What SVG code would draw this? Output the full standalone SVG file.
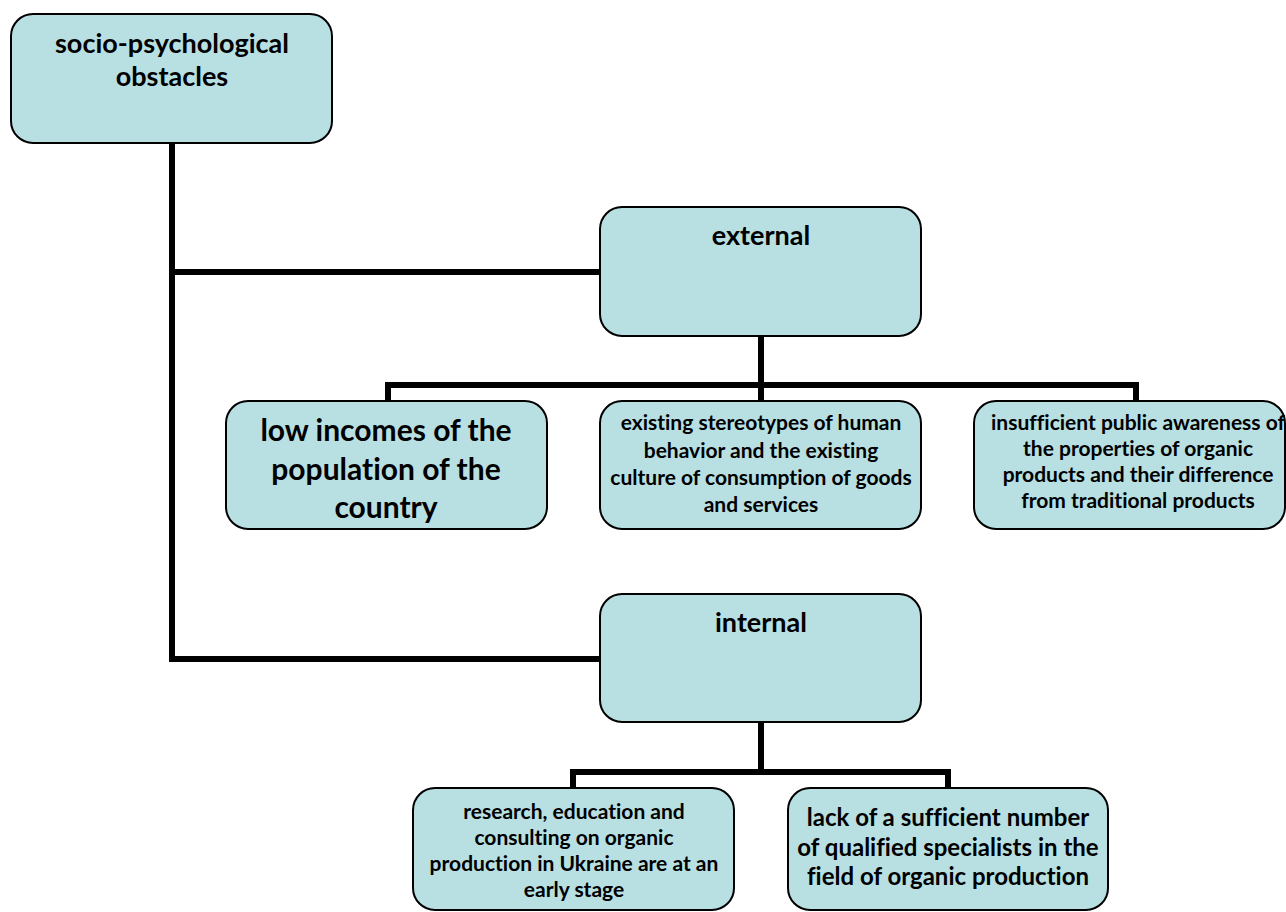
<svg xmlns="http://www.w3.org/2000/svg" width="1286" height="912" viewBox="0 0 1286 912">
<style>
.box{fill:#b8dfe2;stroke:#000;stroke-width:2}
.t{font-family:Lato,"Liberation Sans",sans-serif;font-weight:bold;fill:#000;text-anchor:middle;font-variant-ligatures:none}
.c{fill:none;stroke:#000;stroke-width:6;stroke-linejoin:miter}
</style>
<rect x="0" y="0" width="1286" height="912" fill="#fff"/>
<g id="connectors">
<polyline class="c" points="172,143 172,659 600,659"/>
<line class="c" x1="172" y1="272" x2="600" y2="272"/>
<polyline class="c" points="388,401 388,385 1136,385 1136,401"/>
<line class="c" x1="761" y1="336" x2="761" y2="401"/>
<polyline class="c" points="573,788 573,772 948,772 948,788"/>
<line class="c" x1="761" y1="722" x2="761" y2="772"/>
</g>
<g id="root">
<rect class="box" x="11" y="14" width="321" height="129" rx="22"/>
<text class="t" font-size="27" x="172" y="53">socio-psychological</text>
<text class="t" font-size="27" x="172" y="86">obstacles</text>
</g>
<g id="external">
<rect class="box" x="600" y="207" width="321" height="129" rx="22"/>
<text class="t" font-size="27" x="761" y="245">external</text>
</g>
<g id="low-incomes">
<rect class="box" x="226" y="401" width="321" height="128" rx="22"/>
<text class="t" font-size="30" x="386" y="441">low incomes of the</text>
<text class="t" font-size="30" x="386" y="480">population of the</text>
<text class="t" font-size="30" x="386" y="518">country</text>
</g>
<g id="stereotypes">
<rect class="box" x="600" y="401" width="321" height="128" rx="22"/>
<text class="t" font-size="21" x="761" y="430">existing stereotypes of human</text>
<text class="t" font-size="21" x="761" y="458">behavior and the existing</text>
<text class="t" font-size="21" x="761" y="485">culture of consumption of goods</text>
<text class="t" font-size="21" x="761" y="512">and services</text>
</g>
<g id="awareness">
<rect class="box" x="974" y="401" width="311" height="128" rx="22"/>
<text class="t" font-size="21" x="1138" y="430">insufficient public awareness of</text>
<text class="t" font-size="21" x="1138" y="456">the properties of organic</text>
<text class="t" font-size="21" x="1138" y="482">products and their difference</text>
<text class="t" font-size="21" x="1138" y="508">from traditional products</text>
</g>
<g id="internal">
<rect class="box" x="600" y="594" width="321" height="128" rx="22"/>
<text class="t" font-size="27" x="761" y="632">internal</text>
</g>
<g id="research">
<rect class="box" x="413" y="788" width="321" height="122" rx="22"/>
<text class="t" font-size="21" x="574" y="819">research, education and</text>
<text class="t" font-size="21" x="574" y="845">consulting on organic</text>
<text class="t" font-size="21" x="574" y="871">production in Ukraine are at an</text>
<text class="t" font-size="21" x="574" y="897">early stage</text>
</g>
<g id="specialists">
<rect class="box" x="788" y="788" width="320" height="122" rx="22"/>
<text class="t" font-size="24" x="948" y="826">lack of a sufficient number</text>
<text class="t" font-size="24" x="948" y="856">of qualified specialists in the</text>
<text class="t" font-size="24" x="948" y="885">field of organic production</text>
</g>
</svg>
